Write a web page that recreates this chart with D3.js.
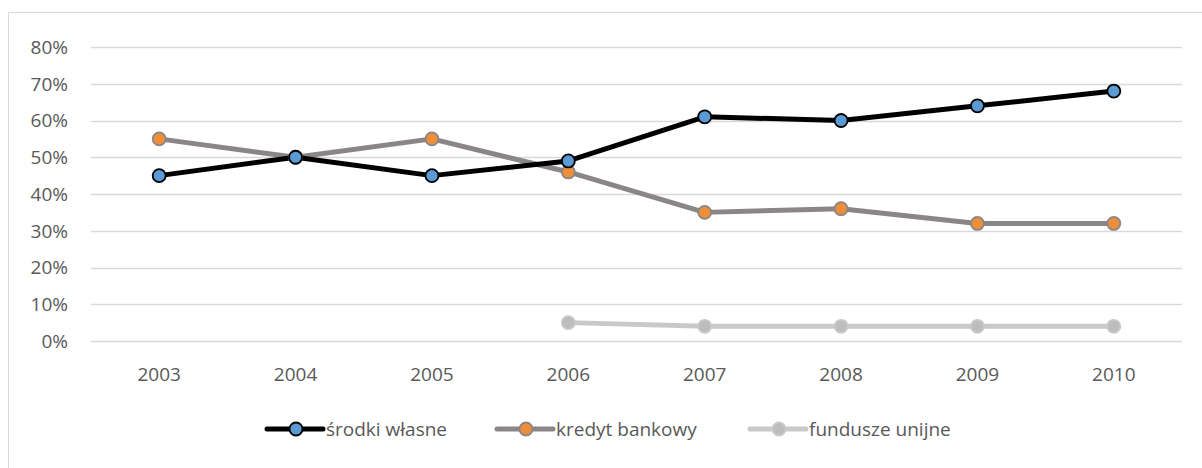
<!DOCTYPE html>
<html><head><meta charset="utf-8">
<script src="https://cdn.jsdelivr.net/npm/d3@7"></script>
<style>
html,body{margin:0;padding:0;background:#fff;}
svg{display:block;font-family:"Open Sans","Noto Sans",sans-serif;}
</style></head>
<body><svg id="c" width="1202" height="468"></svg>
<script>
const years = ["2003","2004","2005","2006","2007","2008","2009","2010"];
const srodkiWlasne = [45,50,45,49,61,60,64,68];
const kredytBankowy = [55,50,55,46,35,36,32,32];
const fundusze = [null,null,null,5,4,4,4,4];
const yTicks = [0,10,20,30,40,50,60,70,80];
const seriesNames = ["środki własne","kredyt bankowy","fundusze unijne"];

const series = [
  {name:seriesNames[0], values:srodkiWlasne, line:"#000000", fill:"#5B9BD5", stroke:"#000000"},
  {name:seriesNames[1], values:kredytBankowy, line:"#8A8685", fill:"#ED8E3B", stroke:"#8A8685"},
  {name:seriesNames[2], values:fundusze, line:"#C9C9C9", fill:"#BDBDBD", stroke:"#C9C9C9"}
];

const svg = d3.select("#c");
const L=91, R=1182, T=47, B=341;
svg.append("rect").attr("x",8.5).attr("y",12.5).attr("width",1202).attr("height",468)
  .attr("fill","none").attr("stroke","#D9D9D9").attr("stroke-width",1);

const x = d3.scaleBand().domain(years).range([L,R]);
const y = d3.scaleLinear().domain([0,80]).range([B,T]);

svg.append("g").selectAll("line").data(yTicks).join("line")
  .attr("x1",L).attr("x2",R).attr("y1",d=>Math.round(y(d))+0.5).attr("y2",d=>Math.round(y(d))+0.5)
  .attr("stroke","#D9D9D9").attr("stroke-width",1.5);

svg.append("g").selectAll("text").data(yTicks).join("text")
  .attr("x",68).attr("y",d=>y(d)).attr("dy","0.36em").attr("text-anchor","end")
  .attr("fill","#595959").attr("font-size",19).text(d=>d+"%");

svg.append("g").selectAll("text").data(years).join("text")
  .attr("x",d=>x(d)+x.bandwidth()/2).attr("y",374).attr("dy","0.36em").attr("text-anchor","middle")
  .attr("fill","#595959").attr("font-size",19).text(d=>d);

const cx = i => x(years[i])+x.bandwidth()/2;
const line = d3.line().defined(d=>d!=null).x((d,i)=>cx(i)).y(d=>y(d));

series.slice().reverse().forEach(s=>{
  svg.append("path").attr("d",line(s.values)).attr("fill","none")
    .attr("stroke",s.line).attr("stroke-width",5).attr("stroke-linejoin","round").attr("stroke-linecap","round");
});
series.slice().reverse().forEach(s=>{
  svg.append("g").selectAll("circle").data(s.values.map((v,i)=>({v,i})).filter(d=>d.v!=null)).join("circle")
    .attr("cx",d=>cx(d.i)).attr("cy",d=>y(d.v)).attr("r",6.5)
    .attr("fill",s.fill).attr("stroke",s.stroke).attr("stroke-width",1.8);
});

const legX = [267, 497, 750];
const ly = 429;
series.forEach((s,k)=>{
  const g = svg.append("g").attr("transform",`translate(${legX[k]},${ly})`);
  g.append("line").attr("x1",0).attr("x2",56).attr("y1",0).attr("y2",0)
    .attr("stroke",s.line).attr("stroke-width",5).attr("stroke-linecap","round");
  g.append("circle").attr("cx",29).attr("cy",0).attr("r",6.5)
    .attr("fill",s.fill).attr("stroke",s.stroke).attr("stroke-width",1.8);
  g.append("text").attr("x",59).attr("y",0).attr("dy","0.36em")
    .attr("fill","#595959").attr("font-size",19).text(s.name);
});
</script></body></html>
